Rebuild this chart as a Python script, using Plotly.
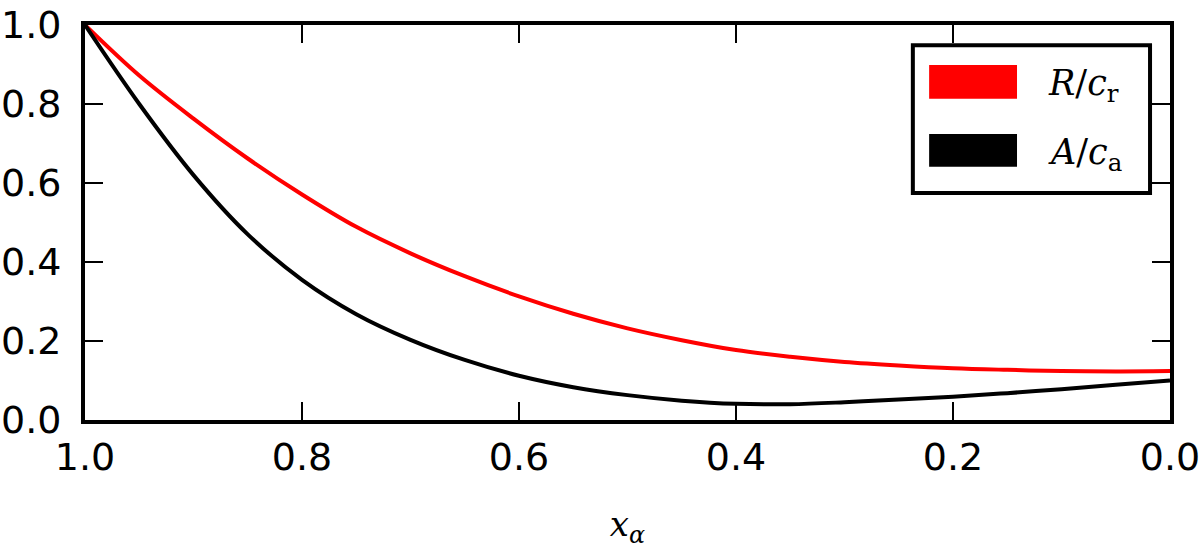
import plotly.graph_objects as go

# x_alpha sample points (axis runs from 1.0 down to 0.0)
x_alpha = [1.0, 0.95, 0.9, 0.85, 0.8, 0.75, 0.7, 0.65, 0.6, 0.55, 0.5,
           0.45, 0.4, 0.35, 0.3, 0.25, 0.2, 0.15, 0.1, 0.05, 0.0]

# R / c_r  (red)
r_over_cr = [1.0, 0.872, 0.763, 0.662, 0.571, 0.489, 0.422, 0.364, 0.313,
             0.269, 0.232, 0.202, 0.177, 0.160, 0.147, 0.138, 0.131, 0.127,
             0.124, 0.123, 0.124]

# A / c_a  (black)
a_over_ca = [1.0, 0.80, 0.62, 0.47, 0.355, 0.268, 0.203, 0.152, 0.112,
             0.083, 0.063, 0.049, 0.041, 0.040, 0.045, 0.052, 0.059, 0.068,
             0.078, 0.089, 0.100]

series = [
    ("<i>R</i>/<i>c</i><sub>r</sub>", r_over_cr, "#ff0000"),
    ("<i>A</i>/<i>c</i><sub>a</sub>", a_over_ca, "#000000"),
]

SERIF = "DejaVu Serif, Liberation Serif, serif"
SANS = "DejaVu Sans, sans-serif"

fig = go.Figure()
for name, ys, color in series:
    fig.add_trace(
        go.Scatter(
            x=x_alpha, y=ys, mode="lines", name=name, showlegend=False,
            line=dict(color=color, width=4, shape="spline", smoothing=1.0),
        )
    )

# Hand-drawn legend box in the upper right (matplotlib-style patches).
fig.add_shape(type="rect", xref="paper", yref="paper",
              x0=0.763, x1=0.9816, y0=0.575, y1=0.949,
              line=dict(color="black", width=4), fillcolor="white", layer="above")
legend_rows = [(0.899, 0.813, 0.846), (0.724, 0.641, 0.672)]
for (name, _, color), (y_top, y_bot, y_txt) in zip(series, legend_rows):
    fig.add_shape(type="rect", xref="paper", yref="paper",
                  x0=0.778, x1=0.859, y0=y_bot, y1=y_top,
                  line=dict(width=0), fillcolor=color, layer="above")
    fig.add_annotation(xref="paper", yref="paper", x=0.886, y=y_txt,
                       text=name, showarrow=False, xanchor="left", yanchor="middle",
                       font=dict(family=SERIF, size=35, color="black"))

axis_common = dict(
    showline=True, linecolor="black", linewidth=4, mirror="allticks",
    ticks="inside", ticklen=18, tickwidth=2, tickcolor="black",
    showgrid=False, zeroline=False,
    tickfont=dict(family=SANS, size=38, color="black"),
    tickformat=".1f", ticklabeloverflow="allow",
)

fig.update_xaxes(
    range=[1.0, 0.0], tickvals=[1.0, 0.8, 0.6, 0.4, 0.2, 0.0],
    ticklabelstandoff=0,
    title=dict(text="<i>x</i><sub><i>α</i></sub>", standoff=36,
               font=dict(family=SERIF, size=34, color="black")),
    **axis_common,
)
fig.update_yaxes(range=[0.0, 1.0], tickvals=[0.0, 0.2, 0.4, 0.6, 0.8, 1.0],
                 ticklabelstandoff=12, **axis_common)

fig.update_layout(
    width=1200, height=549,
    margin=dict(l=85, r=30, t=25, b=129, autoexpand=False),
    plot_bgcolor="white", paper_bgcolor="white",
    showlegend=False,
)

# drop the default 8px body margin so the figure sits at the page corner
fig.write_html("out.html", config={"displayModeBar": False},
               post_script="document.body.style.margin='0';")
